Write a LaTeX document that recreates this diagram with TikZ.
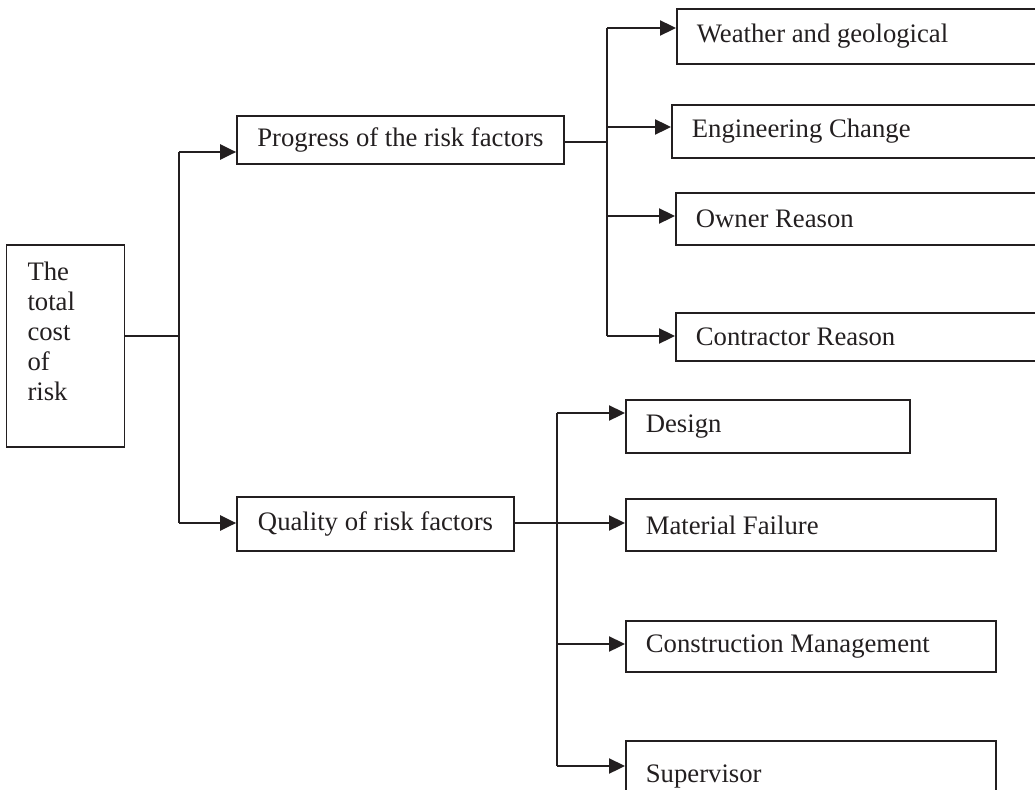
\documentclass[tikz,border=0pt]{standalone}
\usepackage{fontspec}
\setmainfont{Liberation Serif}
\usetikzlibrary{arrows.meta}
\definecolor{ink}{RGB}{35,31,32}
\tikzset{
  box/.style={draw=ink, text=ink, line width=1.7pt, inner xsep=20pt, inner ysep=0pt,
              font=\fontsize{26.7}{30}\selectfont},
  leaf/.style={box, anchor=west, align=flush left},
  feed/.style={draw=ink, line width=1.5pt},
  arr/.style={draw=ink, line width=2.3pt, -{Triangle[length=16pt,width=15pt]}},
  trunk/.style={draw=ink, line width=2.1pt}
}
\begin{document}
\begin{tikzpicture}[x=1pt, y=-1pt]
      \clip (0,0) rectangle (1035,789);       % page
      %
      \node[box, inner xsep=21pt, inner ysep=17pt, minimum width=117pt, minimum height=202pt]
        (root) at (65.5,346) {\parbox[c][168pt][t]{76pt}{\raggedright The\\total\\cost\\of\\risk}};
      %
      \node[box, align=center, minimum width=327pt, minimum height=48pt] (prog) at (400.5,140)
        {Progress of the risk factors};       % middle column
      \node[box, align=center, minimum width=277pt, minimum height=54pt] (qual) at (375.5,524)
        {Quality of risk factors};
      %
      \node[leaf, text width=344pt, minimum height=55pt] (wea) at (676,36.5) {Weather and geological}; % first group
      \node[leaf, text width=349pt, minimum height=53pt] (eng) at (671,131.5) {Engineering Change};
      \node[leaf, text width=345pt, minimum height=52pt] (own) at (675,219) {Owner Reason};
      \node[leaf, text width=345pt, minimum height=48pt] (con) at (675,337) {Contractor Reason};
      %
      \node[leaf, text width=244pt, minimum height=53pt] (des) at (625,426.5) {Design}; % second group
      \node[leaf, text width=330pt, minimum height=52pt] (mat) at (625,525) {Material Failure};
      \node[leaf, text width=330pt, minimum height=51pt] (cm)  at (625,646.5) {Construction Management};
      \node[leaf, text width=330pt, minimum height=70pt] (sup) at (625,776) {Supervisor};
      %
      \coordinate (r0) at (179,336);          % root fork
      \coordinate (r1) at (179,152);
      \coordinate (r2) at (179,523);
      \draw[feed] ([yshift=10pt]root.east) -- (r0);
      \draw[trunk] (r1) -- (r2);
      \draw[arr] (r1) -- (r1 -| prog.west);
      \draw[arr] (r2) -- (r2 -| qual.west);
      %
      \coordinate (p0) at (607,142);          % first group fork
      \coordinate (p1) at (607,28);
      \coordinate (p2) at (607,127);
      \coordinate (p3) at (607,216);
      \coordinate (p4) at (607,336);
      \draw[feed] (p0 -| prog.east) -- (p0);
      \draw[trunk] (p1) -- (p4);
      \draw[arr] (p1) -- (p1 -| wea.west);
      \draw[arr] (p2) -- (p2 -| eng.west);
      \draw[arr] (p3) -- (p3 -| own.west);
      \draw[arr] (p4) -- (p4 -| con.west);
      %
      \coordinate (q0) at (557,523);          % second group fork
      \coordinate (q1) at (557,413);
      \coordinate (q3) at (557,644);
      \coordinate (q4) at (557,766);
      \draw[feed] (q0 -| qual.east) -- (q0);
      \draw[trunk] (q1) -- (q4);
      \draw[arr] (q1) -- (q1 -| des.west);
      \draw[arr] (q0) -- (q0 -| mat.west);
      \draw[arr] (q3) -- (q3 -| cm.west);
      \draw[arr] (q4) -- (q4 -| sup.west);
      %
    \end{tikzpicture}
\end{document}
